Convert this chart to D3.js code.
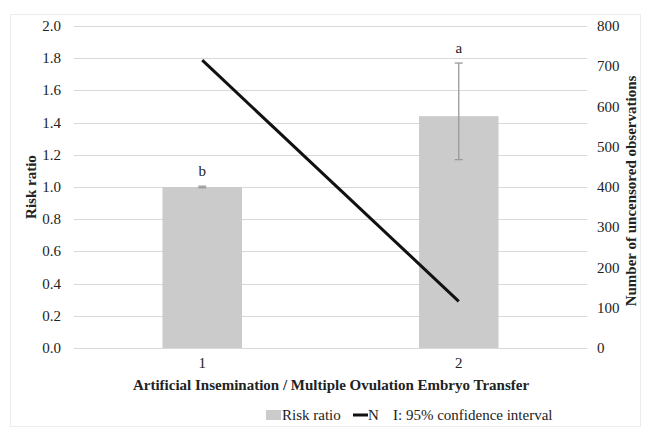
<!DOCTYPE html>
<html>
<head>
<meta charset="utf-8">
<title>Risk ratio</title>
<script src="https://cdn.jsdelivr.net/npm/d3@7"></script>
<style>
  body { margin: 0; background: #fff; }
  svg text { fill: #222; }
</style>
</head>
<body>
<svg id="graph" width="646" height="430" font-family="'Liberation Serif', Tinos, 'DejaVu Serif', 'Times New Roman', serif"></svg>
<script>
// data
const categories = ["1", "2"];
const riskRatio = [1.0, 1.44];
const ciLow = [0.995, 1.17];
const ciHigh = [1.005, 1.77];
const letters = ["b", "a"];
const nObs = [715, 116];
const leftTicks = [0, 0.2, 0.4, 0.6, 0.8, 1.0, 1.2, 1.4, 1.6, 1.8, 2.0];
const rightTicks = [0, 100, 200, 300, 400, 500, 600, 700, 800];

const svg = d3.select("#graph");
const m = { left: 74, right: 587, top: 26, bottom: 348 };

// frame
svg.append("rect")
  .attr("x", 10.5).attr("y", 14.5)
  .attr("width", 630).attr("height", 412)
  .attr("fill", "#fff").attr("stroke", "#ececec");

const x = d3.scaleBand().domain(categories).range([m.left, m.right]);
const y = d3.scaleLinear().domain([0, 2]).range([m.bottom, m.top]);
const y2 = d3.scaleLinear().domain([0, 800]).range([m.bottom, m.top]);
const barW = x.bandwidth() * 0.31;

// gridlines
svg.append("g").selectAll("line")
  .data(leftTicks).enter().append("line")
  .attr("x1", m.left).attr("x2", m.right)
  .attr("y1", d => Math.round(y(d)) + 0.5).attr("y2", d => Math.round(y(d)) + 0.5)
  .attr("stroke", "#d9d9d9").attr("stroke-width", 1);

// left axis labels
svg.append("g").selectAll("text")
  .data(leftTicks).enter().append("text")
  .attr("x", 61).attr("y", d => y(d) + 5)
  .attr("text-anchor", "end").style("font-size", "15px")
  .text(d => d.toFixed(1));

// right axis labels
svg.append("g").selectAll("text")
  .data(rightTicks).enter().append("text")
  .attr("x", 597).attr("y", d => y2(d) + 5)
  .attr("text-anchor", "start").style("font-size", "15px")
  .text(d => d);

// bars
svg.append("g").selectAll("rect")
  .data(riskRatio).enter().append("rect")
  .attr("x", (d, i) => x(categories[i]) + x.bandwidth() / 2 - barW / 2)
  .attr("y", d => y(d))
  .attr("width", barW)
  .attr("height", d => y(0) - y(d))
  .attr("fill", "#cbcbcb");

// error bars
const eb = svg.append("g").attr("stroke", "#9a9a9a").attr("stroke-width", 1.3);
categories.forEach((c, i) => {
  const cx = x(c) + x.bandwidth() / 2;
  eb.append("line").attr("x1", cx).attr("x2", cx)
    .attr("y1", y(ciLow[i])).attr("y2", y(ciHigh[i]));
  eb.append("line").attr("x1", cx - 4).attr("x2", cx + 4)
    .attr("y1", y(ciLow[i])).attr("y2", y(ciLow[i]));
  eb.append("line").attr("x1", cx - 4).attr("x2", cx + 4)
    .attr("y1", y(ciHigh[i])).attr("y2", y(ciHigh[i]));
});

// significance letters
svg.append("g").selectAll("text")
  .data(letters).enter().append("text")
  .attr("x", (d, i) => x(categories[i]) + x.bandwidth() / 2)
  .attr("y", (d, i) => y(ciHigh[i]) - 10)
  .attr("text-anchor", "middle").style("font-size", "15px")
  .text(d => d);

// N line
const line = d3.line()
  .x((d, i) => x(categories[i]) + x.bandwidth() / 2)
  .y(d => y2(d));
svg.append("path")
  .datum(nObs)
  .attr("d", line)
  .attr("fill", "none").attr("stroke", "#111").attr("stroke-width", 3);

// x tick labels
svg.append("g").selectAll("text")
  .data(categories).enter().append("text")
  .attr("x", d => x(d) + x.bandwidth() / 2)
  .attr("y", 368)
  .attr("text-anchor", "middle").style("font-size", "15px")
  .text(d => d);

// axis titles
svg.append("text").attr("font-weight", "bold")
  .attr("x", 331).attr("y", 390)
  .attr("text-anchor", "middle").style("font-size", "15px")
  .text("Artificial Insemination / Multiple Ovulation Embryo Transfer");

svg.append("text").attr("font-weight", "bold")
  .attr("transform", "translate(36," + ((m.top + m.bottom) / 2) + ") rotate(-90)")
  .attr("text-anchor", "middle").style("font-size", "15px")
  .text("Risk ratio");

svg.append("text").attr("font-weight", "bold")
  .attr("transform", "translate(636,191) rotate(-90)")
  .attr("text-anchor", "middle").style("font-size", "15px")
  .text("Number of uncensored observations");

// legend
const lg = svg.append("g");
lg.append("rect").attr("x", 266).attr("y", 410).attr("width", 15).attr("height", 10).attr("fill", "#cbcbcb");
lg.append("text").attr("x", 282).attr("y", 420).style("font-size", "15px").text("Risk ratio");
lg.append("line").attr("x1", 353).attr("x2", 368).attr("y1", 415).attr("y2", 415)
  .attr("stroke", "#111").attr("stroke-width", 3);
lg.append("text").attr("x", 368).attr("y", 420).style("font-size", "15px").text("N");
lg.append("text").attr("x", 393).attr("y", 420).style("font-size", "15px").text("I: 95% confidence interval");
</script>
</body>
</html>
